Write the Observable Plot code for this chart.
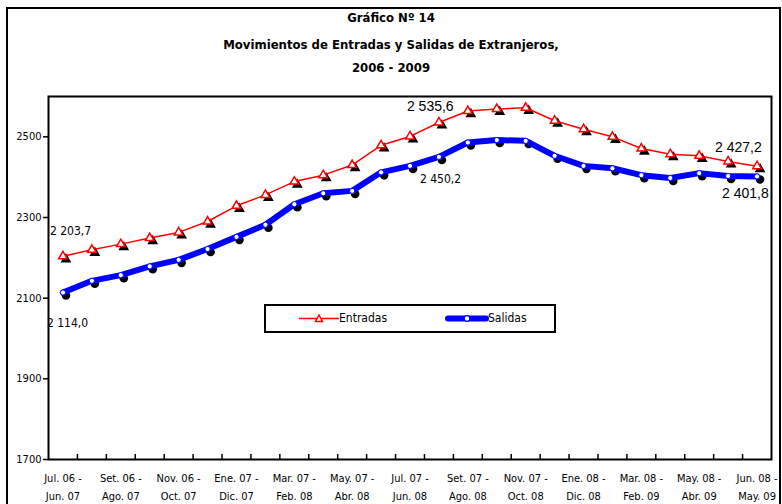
<!DOCTYPE html>
<html><head><meta charset="utf-8">
<script src="https://cdn.jsdelivr.net/npm/d3@7"></script>
<script src="https://cdn.jsdelivr.net/npm/@observablehq/plot@0.6"></script>
<style>
body{margin:0;background:#fff;}
#wrap{position:relative;width:782px;height:504px;overflow:hidden;font-family:"Liberation Sans Narrow","Arial Narrow","DejaVu Sans Condensed",sans-serif;}
#frame{position:absolute;left:6px;top:7px;width:771px;height:520px;border:2px solid #000;}
.t{position:absolute;left:0;width:782px;text-align:center;font-weight:bold;font-size:13px;line-height:18px;}
#chart{position:absolute;left:0;top:0;}
#legend{position:absolute;left:264px;top:304px;width:288px;height:25px;border:2px solid #000;background:#fff;font-size:12px;}
#legend span{position:absolute;top:5px;}
#legend svg{position:absolute;top:0;}
</style></head>
<body><div id="wrap">
<div id="frame"></div>
<div id="chart"></div>
<div class="t" style="top:9px">Gráfico Nº 14</div>
<div class="t" style="top:36px">Movimientos de Entradas y Salidas de Extranjeros,</div>
<div class="t" style="top:59px">2006 - 2009</div>
<div id="legend">
  <svg width="50" height="25" style="left:31px"><line x1="2" x2="42" y1="12.5" y2="12.5" stroke="#f00" stroke-width="1.5"/><path d="M22,9 L25.5,15.5 L18.5,15.5 Z" fill="#fff" stroke="#f00" stroke-width="1.5"/></svg>
  <span style="left:73px">Entradas</span>
  <svg width="50" height="25" style="left:179px"><line x1="3" x2="41" y1="12.5" y2="12.5" stroke="#00f" stroke-width="6" stroke-linecap="round"/><circle cx="22" cy="12.5" r="2.8" fill="#fff" stroke="#00f" stroke-width="1.2"/></svg>
  <span style="left:222px">Salidas</span>
</div>
</div>
<script>
const tickLabels = ["Jul. 06 -\nJun. 07","Set. 06 -\nAgo. 07","Nov. 06 -\nOct. 07","Ene. 07 -\nDic. 07","Mar. 07 -\nFeb. 08","May. 07 -\nAbr. 08","Jul. 07 -\nJun. 08","Set. 07 -\nAgo. 08","Nov. 07 -\nOct. 08","Ene. 08 -\nDic. 08","Mar. 08 -\nFeb. 09","May. 08 -\nAbr. 09","Jun. 08 -\nMay. 09"];
const entradas = [2203.7,2220,2234,2249,2263,2290,2329,2356,2389,2405,2430,2479,2501,2535.6,2564,2569,2572,2540,2519,2500,2471,2457,2453,2439,2427.2];
const salidas = [2114.0,2143,2157,2179,2195,2222,2252,2282,2333,2360,2366,2412,2428,2450.2,2486,2492,2490,2453,2428,2422,2405,2398,2410,2403,2401.8];
const yTicks = [1700,1900,2100,2300,2500];

const ent = entradas.map((v,i)=>({i,v}));
const sal = salidas.map((v,i)=>({i,v}));
const fmt = d3.formatLocale({decimal:",",thousands:" ",grouping:[3],currency:["",""]}).format(",.1f");
const narrow = '"Liberation Sans Narrow","Arial Narrow","DejaVu Sans Condensed",sans-serif';
const regular = '"Liberation Sans",Arial,sans-serif';

const chart = Plot.plot({
  width:782, height:504,
  marginLeft:48, marginRight:11, marginTop:96, marginBottom:45,
  style:{fontFamily:narrow, background:"transparent"},
  x:{type:"linear", domain:[-0.5,24.5]},
  y:{domain:[1700,2600]},
  marks:[
    Plot.axisY({ticks:yTicks, tickSize:5, tickPadding:2, tickFormat:d=>String(d), fontSize:11, stroke:"#000", strokeWidth:1.5, label:null}),
    Plot.axisX({ticks:d3.range(0.5,24,1), tickSize:-5, tickFormat:()=>"", strokeWidth:1.5, label:null}),
    Plot.axisX({ticks:d3.range(0,25,2), tickSize:0, tickPadding:10, tickFormat:i=>tickLabels[i/2], fontSize:11, lineHeight:1.6, label:null}),
    Plot.frame({stroke:"#000", strokeWidth:2}),
    Plot.dot(ent,{x:"i",y:"v",symbol:"triangle",r:4,fill:"#000",dx:3,dy:3}),
    Plot.dot(sal,{x:"i",y:"v",r:4.3,fill:"#000",dx:3,dy:3}),
    Plot.line(ent,{x:"i",y:"v",stroke:"#f00",strokeWidth:1.5}),
    Plot.line(sal,{x:"i",y:"v",stroke:"#00f",strokeWidth:6}),
    Plot.dot(ent,{x:"i",y:"v",symbol:"triangle",r:3.2,fill:"#fff",stroke:"#f00",strokeWidth:1.5}),
    Plot.dot(sal,{x:"i",y:"v",r:2.6,fill:"#fff",stroke:"#00f",strokeWidth:1}),
    Plot.text(ent.filter(d=>d.i===0),{x:"i",y:"v",text:d=>fmt(d.v),textAnchor:"start",dx:-13,dy:-25,fontSize:12,fill:"#000"}),
    Plot.text(sal.filter(d=>d.i===0),{x:"i",y:"v",text:d=>fmt(d.v),textAnchor:"start",dx:-16,dy:31,fontSize:12,fill:"#000"}),
    Plot.text(sal.filter(d=>d.i===13),{x:"i",y:"v",text:d=>fmt(d.v),textAnchor:"start",dx:-19,dy:22,fontSize:12,fill:"#000"}),
    Plot.text(ent.filter(d=>d.i===13),{x:"i",y:"v",text:d=>fmt(d.v),textAnchor:"start",dx:-32,dy:-16,fontSize:14,fontFamily:regular,fill:"#000"}),
    Plot.text(ent.filter(d=>d.i===24),{x:"i",y:"v",text:d=>fmt(d.v),textAnchor:"start",dx:-42,dy:-19,fontSize:14,fontFamily:regular,fill:"#000"}),
    Plot.text(sal.filter(d=>d.i===24),{x:"i",y:"v",text:d=>fmt(d.v),textAnchor:"start",dx:-35,dy:17,fontSize:14,fontFamily:regular,fill:"#000"})
  ]
});
document.getElementById("chart").appendChild(chart);
</script>
</body></html>
